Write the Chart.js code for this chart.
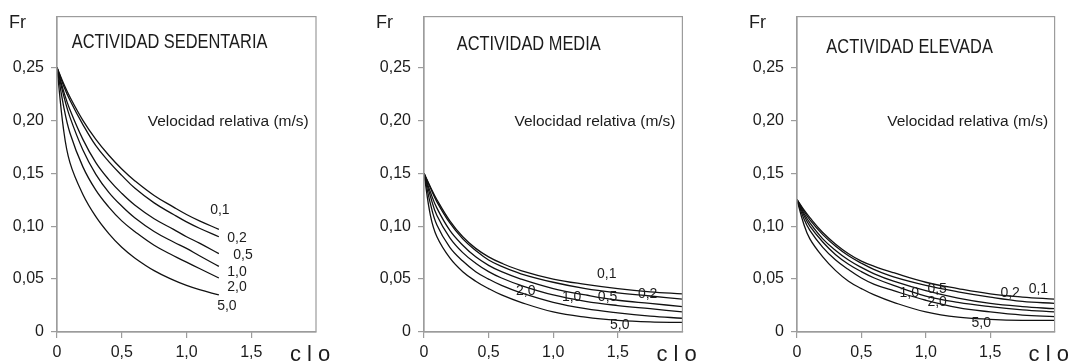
<!DOCTYPE html>
<html><head><meta charset="utf-8">
<script src="https://cdn.jsdelivr.net/npm/chart.js@4"></script>
<style>
html,body{margin:0;padding:0;background:#fff;}
#wrap{position:relative;width:1071px;height:364px;overflow:hidden;background:#fff;}
canvas{position:absolute;top:0;}
</style></head><body>
<div id="wrap">
<canvas id="c1" width="357" height="364" style="left:0px"></canvas>
<canvas id="c2" width="360" height="364" style="left:360px"></canvas>
<canvas id="c3" width="351" height="364" style="left:720px"></canvas>
</div>
<script>
// ---------- DATA ----------
const velocityLabels = ['0,1', '0,2', '0,5', '1,0', '2,0', '5,0'];
const yTickValues = [0, 0.05, 0.10, 0.15, 0.20, 0.25];
const yTickLabels = ['0', '0,05', '0,10', '0,15', '0,20', '0,25'];
const xTickValues = [0, 0.5, 1.0, 1.5];
const xTickLabels = ['0', '0,5', '1,0', '1,5'];
const titles = ['ACTIVIDAD SEDENTARIA', 'ACTIVIDAD MEDIA', 'ACTIVIDAD ELEVADA'];
const velTitle = 'Velocidad relativa (m/s)';

// Actividad sedentaria
const cloSed = [0, 0.05, 0.1, 0.2, 0.3, 0.4, 0.5, 0.6, 0.75, 0.9, 1.0, 1.1, 1.25];
const sed01 = [0.250, 0.235, 0.222, 0.200, 0.182, 0.167, 0.154, 0.143, 0.129, 0.118, 0.111, 0.105, 0.097];
const sed02 = [0.250, 0.233, 0.219, 0.196, 0.176, 0.161, 0.148, 0.136, 0.122, 0.111, 0.104, 0.098, 0.090];
const sed05 = [0.250, 0.228, 0.210, 0.182, 0.160, 0.144, 0.131, 0.120, 0.107, 0.097, 0.090, 0.084, 0.074];
const sed10 = [0.250, 0.224, 0.203, 0.172, 0.149, 0.132, 0.119, 0.108, 0.095, 0.085, 0.079, 0.072, 0.062];
const sed20 = [0.250, 0.214, 0.188, 0.156, 0.134, 0.118, 0.105, 0.095, 0.082, 0.072, 0.066, 0.060, 0.051];
const sed50 = [0.250, 0.192, 0.160, 0.130, 0.109, 0.093, 0.080, 0.070, 0.058, 0.049, 0.044, 0.040, 0.035];

// Actividad media
const cloMed = [0, 0.05, 0.1, 0.2, 0.3, 0.4, 0.5, 0.6, 0.75, 1.0, 1.25, 1.5, 1.75, 2.0];
const med01 = [0.150, 0.137, 0.125, 0.105, 0.090, 0.079, 0.071, 0.065, 0.058, 0.050, 0.045, 0.041, 0.038, 0.036];
const med02 = [0.150, 0.136, 0.123, 0.103, 0.088, 0.077, 0.068, 0.062, 0.055, 0.047, 0.041, 0.037, 0.034, 0.031];
const med05 = [0.150, 0.132, 0.117, 0.096, 0.082, 0.071, 0.063, 0.057, 0.050, 0.041, 0.035, 0.030, 0.027, 0.024];
const med10 = [0.150, 0.128, 0.110, 0.089, 0.075, 0.065, 0.057, 0.051, 0.044, 0.035, 0.029, 0.025, 0.022, 0.019];
const med20 = [0.150, 0.121, 0.101, 0.080, 0.067, 0.057, 0.050, 0.044, 0.037, 0.028, 0.022, 0.018, 0.015, 0.013];
const med50 = [0.150, 0.110, 0.090, 0.070, 0.057, 0.048, 0.041, 0.035, 0.028, 0.019, 0.014, 0.011, 0.0095, 0.009];

// Actividad elevada
const cloElev = [0, 0.05, 0.1, 0.2, 0.3, 0.4, 0.5, 0.6, 0.75, 1.0, 1.25, 1.5, 1.75, 2.0];
const elev01 = [0.125, 0.116, 0.108, 0.094, 0.083, 0.074, 0.067, 0.062, 0.056, 0.047, 0.041, 0.036, 0.033, 0.031];
const elev02 = [0.125, 0.115, 0.106, 0.092, 0.081, 0.072, 0.065, 0.059, 0.052, 0.044, 0.038, 0.033, 0.029, 0.027];
const elev05 = [0.125, 0.113, 0.103, 0.088, 0.077, 0.068, 0.061, 0.055, 0.048, 0.039, 0.032, 0.027, 0.024, 0.022];
const elev10 = [0.125, 0.111, 0.100, 0.085, 0.073, 0.064, 0.057, 0.051, 0.044, 0.034, 0.028, 0.024, 0.021, 0.019];
const elev20 = [0.125, 0.108, 0.096, 0.080, 0.068, 0.059, 0.051, 0.045, 0.039, 0.030, 0.023, 0.019, 0.016, 0.0145];
const elev50 = [0.125, 0.103, 0.088, 0.071, 0.058, 0.048, 0.041, 0.035, 0.028, 0.019, 0.014, 0.012, 0.011, 0.011];

// curve-label anchors in data units [clo, Fr], in velocityLabels order
const sedLabelAt  = [[1.258, 0.1147], [1.39, 0.0885], [1.436, 0.0726], [1.39, 0.0567], [1.39, 0.0427], [1.312, 0.0240]];
const medLabelAt  = [[1.414, 0.0549], [1.731, 0.0362], [1.421, 0.0334], [1.143, 0.0334], [0.787, 0.0390], [1.515, 0.0063]];
const elevLabelAt = [[1.874, 0.0409], [1.655, 0.0371], [1.088, 0.0409], [0.871, 0.0371], [1.088, 0.0278], [1.431, 0.0082]];

// ---------- RENDERING ----------
const FONT = '"Liberation Sans", Arial, Helvetica, sans-serif';
const TXT = '#1c1c1c';
const BOX = '#9c9c9c';

function series(xs, ys) { return xs.map((x, i) => ({ x: x, y: ys[i] })); }

function decoPlugin(p) {
  return {
    id: 'deco' + p.key,
    afterDraw(chart) {
      const ctx = chart.ctx, a = chart.chartArea, xs = chart.scales.x, ys = chart.scales.y;
      ctx.save();
      ctx.strokeStyle = BOX; ctx.lineWidth = 1.2;
      ctx.strokeRect(a.left, a.top, a.right - a.left, a.bottom - a.top);
      ctx.fillStyle = TXT;
      ctx.textAlign = 'left'; ctx.textBaseline = 'alphabetic';
      ctx.font = '18px ' + FONT;
      ctx.fillText('Fr', a.left - 48, 28);
      ctx.font = '22px ' + FONT;
      ctx.fillText('c l o', a.right - 26, 361);
      // title (condensed)
      ctx.save();
      ctx.translate(xs.getPixelForValue(p.titleX), p.titleBase);
      ctx.scale(0.82, 1);
      ctx.font = '20px ' + FONT;
      ctx.fillText(p.title, 0, 0);
      ctx.restore();
      ctx.font = '15.5px ' + FONT;
      ctx.fillText(velTitle, xs.getPixelForValue(0.70), ys.getPixelForValue(0.195));
      ctx.font = '14px ' + FONT;
      ctx.textAlign = 'center'; ctx.textBaseline = 'middle';
      p.labelAt.forEach((q, i) => {
        ctx.fillText(velocityLabels[i], xs.getPixelForValue(q[0]), ys.getPixelForValue(q[1]));
      });
      ctx.restore();
    }
  };
}

function makePanel(p) {
  const datasets = p.ys.map((ys, i) => ({
    label: velocityLabels[i],
    data: series(p.xs, ys),
    borderColor: '#111',
    borderWidth: 1.3,
    pointRadius: 0,
    fill: false,
    cubicInterpolationMode: 'default',
    tension: 0.4
  }));
  new Chart(document.getElementById(p.canvas), {
    type: 'line',
    data: { datasets: datasets },
    plugins: [decoPlugin(p)],
    options: {
      responsive: false,
      animation: false,
      events: [],
      layout: { padding: { top: 13, right: p.padRight, bottom: 0, left: 0 } },
      plugins: { legend: { display: false }, tooltip: { enabled: false }, title: { display: false } },
      scales: {
        x: {
          type: 'linear', min: 0, max: 2.0,
          afterBuildTicks: s => { s.ticks = xTickValues.map(v => ({ value: v })); },
          afterFit: s => { s.height = 32; },
          ticks: { callback: (v, i) => xTickLabels[i], color: TXT, font: { size: 16, family: FONT }, padding: 5, maxRotation: 0, autoSkip: false },
          grid: { drawOnChartArea: false, drawTicks: true, tickLength: 6, color: BOX, lineWidth: 1.2 },
          border: { display: true, color: BOX, width: 1.2 }
        },
        y: {
          type: 'linear', min: 0, max: 0.298,
          afterBuildTicks: s => { s.ticks = yTickValues.map(v => ({ value: v })); },
          afterFit: s => { s.width = p.axisW; },
          ticks: { callback: (v, i) => yTickLabels[i], color: TXT, font: { size: 16, family: FONT }, padding: 7, autoSkip: false },
          grid: { drawOnChartArea: false, drawTicks: true, tickLength: 6, color: BOX, lineWidth: 1.2 },
          border: { display: true, color: BOX, width: 1.2 }
        }
      }
    }
  });
}

makePanel({ key: 1, canvas: 'c1', axisW: 57, padRight: 41, title: titles[0], titleX: 0.114, titleBase: 48,
  xs: cloSed, ys: [sed01, sed02, sed05, sed10, sed20, sed50], labelAt: sedLabelAt });
makePanel({ key: 2, canvas: 'c2', axisW: 64, padRight: 37.6, title: titles[1], titleX: 0.253, titleBase: 50,
  xs: cloMed, ys: [med01, med02, med05, med10, med20, med50], labelAt: medLabelAt });
makePanel({ key: 3, canvas: 'c3', axisW: 77, padRight: 16.4, title: titles[2], titleX: 0.228, titleBase: 53,
  xs: cloElev, ys: [elev01, elev02, elev05, elev10, elev20, elev50], labelAt: elevLabelAt });
</script>
</body></html>
